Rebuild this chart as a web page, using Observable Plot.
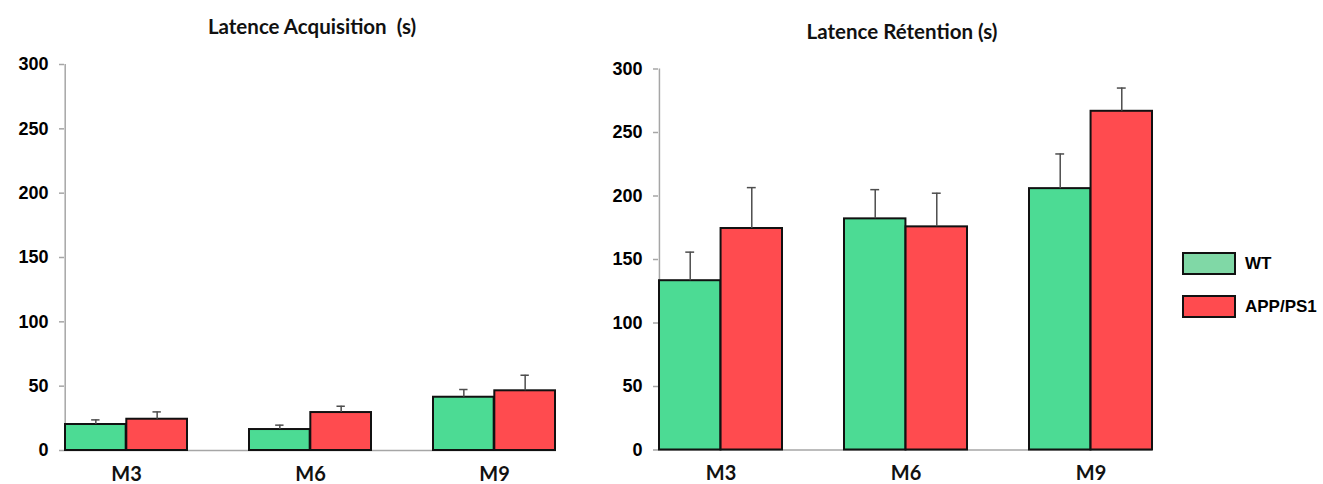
<!DOCTYPE html>
<html>
<head>
<meta charset="utf-8">
<script src="https://cdn.jsdelivr.net/npm/d3@7"></script>
<script src="https://cdn.jsdelivr.net/npm/@observablehq/plot@0.6"></script>
<style>
  body { margin: 0; background: #fff; }
  #wrap { position: relative; width: 1323px; height: 484px; overflow: hidden; background: #fff; }
  .panel { position: absolute; top: 0; }
  .panel svg { background: transparent !important; }
  .title { position: absolute; font-family: Lato, "Open Sans", sans-serif; font-weight: bold; font-size: 20.5px; color: #111; transform: translate(-50%, -50%); white-space: pre; }
  #wrap g[aria-label^="y-axis"] text { font-family: "Liberation Sans", Arial, sans-serif; font-weight: bold; font-size: 18px; fill: #000; }
  #wrap g[aria-label^="x-axis"] text { font-family: Lato, "Open Sans", sans-serif; font-weight: bold; font-size: 20px; fill: #111; }
  #wrap g[aria-label^="y-axis"] line, #wrap g[aria-label^="y-axis"] path { stroke: #a6a6a6; stroke-width: 1.5; }
  .legend { position: absolute; left: 1182px; font-family: "Liberation Sans", Arial, sans-serif; font-weight: bold; font-size: 17px; color: #000; }
  .legend .row { position: absolute; left: 0; display: flex; align-items: center; white-space: nowrap; }
  .legend .sw { width: 50px; height: 19px; border: 2px solid #111; margin-right: 9px; }
</style>
</head>
<body>
<div id="wrap"></div>
<script>
// ---- data ----
const months = ["M3", "M6", "M9"];
const groups = ["WT", "APP/PS1"];
const yTicks = [0, 50, 100, 150, 200, 250, 300];

const titles = ["Latence Acquisition  (s)", "Latence Rétention (s)"];

const acqWT = [20.2, 16.3, 41.4];
const acqWTErr = [3.6, 3.4, 6.0];
const acqAPP = [24.3, 29.5, 46.4];
const acqAPPErr = [5.7, 4.9, 12.1];

const retWT = [133.3, 182.0, 205.8];
const retWTErr = [22.5, 23.0, 27.3];
const retAPP = [174.4, 175.7, 266.7];
const retAPPErr = [32.2, 26.5, 18.3];

const colors = ["#4cdb94", "#ff4b4f"];
const legendColors = ["#80d8a6", "#ff4b4f"];

// ---- chart ----
const PI = 0.336;
function panel(wt, wtErr, app, appErr, marginTop, marginBottom, width) {
  const marginLeft = 64, marginRight = 44;
  const bw = d3.scaleBand(months, [marginLeft, width - marginRight]).paddingInner(PI).paddingOuter(0).bandwidth();
  const half = bw / 2, q = bw / 4, cap = 4.5;
  const rows = months.map((m, i) => ({month: m, wt: wt[i], wtErr: wtErr[i], app: app[i], appErr: appErr[i]}));
  const errStroke = "#4d4d4d";
  return Plot.plot({
    width, height: 484, marginLeft, marginRight, marginTop, marginBottom,
    style: {background: "transparent", overflow: "visible"},
    x: {domain: months, paddingInner: PI, paddingOuter: 0, tickSize: 0, tickPadding: 16, label: null},
    y: {domain: [0, 300], ticks: yTicks, tickSize: 5, tickPadding: 11, label: null},
    marks: [
      Plot.ruleX([months[0]], {x: d => d, y1: 0, y2: 300, dx: -half, stroke: "#a6a6a6", strokeWidth: 1.5}),
      Plot.ruleY([0], {stroke: "#a6a6a6", strokeWidth: 1.5}),
      Plot.barY(rows, {x: "month", y: "wt", insetRight: half, fill: colors[0], stroke: "#111", strokeWidth: 2}),
      Plot.barY(rows, {x: "month", y: "app", insetLeft: half, fill: colors[1], stroke: "#111", strokeWidth: 2}),
      Plot.ruleX(rows, {x: "month", y1: "wt", y2: d => d.wt + d.wtErr, dx: -q, stroke: errStroke, strokeWidth: 1.5}),
      Plot.tickY(rows, {x: "month", y: d => d.wt + d.wtErr, insetLeft: q - cap, insetRight: bw - q - cap, stroke: errStroke, strokeWidth: 1.5}),
      Plot.ruleX(rows, {x: "month", y1: "app", y2: d => d.app + d.appErr, dx: q, stroke: errStroke, strokeWidth: 1.5}),
      Plot.tickY(rows, {x: "month", y: d => d.app + d.appErr, insetLeft: bw - q - cap, insetRight: q - cap, stroke: errStroke, strokeWidth: 1.5})
    ]
  });
}

const wrap = document.getElementById("wrap");

const p1 = document.createElement("div");
p1.className = "panel"; p1.style.left = "0px";
p1.appendChild(panel(acqWT, acqWTErr, acqAPP, acqAPPErr, 64, 34, 600));
wrap.appendChild(p1);

const p2 = document.createElement("div");
p2.className = "panel"; p2.style.left = "594px";
p2.appendChild(panel(retWT, retWTErr, retAPP, retAPPErr, 68.5, 34.5, 602));
wrap.appendChild(p2);

const titlePos = [[312, 26], [902, 31]];
titles.forEach((t, i) => {
  const d = document.createElement("div");
  d.className = "title";
  d.textContent = t;
  d.style.left = titlePos[i][0] + "px";
  d.style.top = titlePos[i][1] + "px";
  wrap.appendChild(d);
});

const legend = document.createElement("div");
legend.className = "legend";
legend.style.top = "0px";
groups.forEach((g, i) => {
  const row = document.createElement("div");
  row.className = "row";
  row.style.top = (252 + i * 43) + "px";
  const sw = document.createElement("div");
  sw.className = "sw";
  sw.style.background = legendColors[i];
  const lab = document.createElement("span");
  lab.textContent = g;
  row.appendChild(sw); row.appendChild(lab);
  legend.appendChild(row);
});
wrap.appendChild(legend);
</script>
</body>
</html>
